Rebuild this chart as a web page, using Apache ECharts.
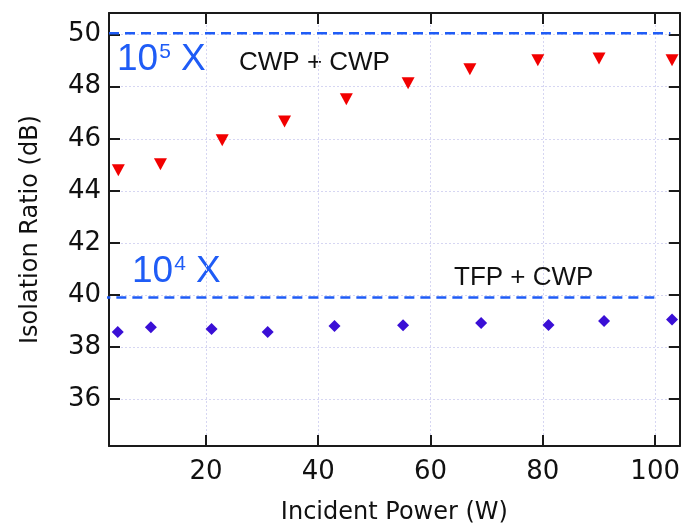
<!DOCTYPE html>
<html>
<head>
<meta charset="utf-8">
<script src="https://cdn.jsdelivr.net/npm/echarts@6/dist/echarts.min.js"></script>
<style>
  html, body { margin: 0; padding: 0; background: #fff; }
  #chart { width: 683px; height: 530px; }
</style>
</head>
<body>
<div id="chart"></div>
<script>
// CWP + CWP (red triangles)
const cwpPower = [4.4, 11.9, 22.9, 34.0, 45.0, 56.0, 67.0, 79.1, 90.0, 103.0];
const cwpRatio = [44.79, 45.02, 45.94, 46.66, 47.52, 48.13, 48.67, 49.02, 49.08, 49.02];
// TFP + CWP (blue diamonds)
const tfpPower = [4.3, 10.2, 21.0, 31.0, 42.9, 55.1, 69.0, 81.0, 90.9, 103.0];
const tfpRatio = [38.58, 38.76, 38.69, 38.58, 38.81, 38.84, 38.92, 38.85, 39.0, 39.06];
// dashed reference levels 10^5 and 10^4
const level5X = [2.74, 102.7];
const level5Y = 50.05;
const level4X = [1.2, 100.5];
const level4Y = 39.9;

const axisFont = 'DejaVu Sans';
const frame = { lineStyle: { color: '#1a1a1a', width: 2 } };
const inTick = { show: true, inside: true, length: 11, lineStyle: { color: '#1a1a1a', width: 2 } };
const grid = { show: true, lineStyle: { color: '#d6d6f2', width: 1, type: [2, 2] } };
const blueRich = {
  a: { fontFamily: 'Liberation Sans', fontSize: 37, lineHeight: 40, fill: '#1f5cf6' },
  b: { fontFamily: 'Liberation Sans', fontSize: 21, padding: [0, 0, 15, 1], fill: '#1f5cf6' }
};

const chart = echarts.init(document.getElementById('chart'));
chart.setOption({
  animation: false,
  grid: { left: 109, right: 1.5, top: 13, bottom: 79 },
  xAxis: [{
    type: 'value', min: 2.74, max: 104.38, splitNumber: 5,
    name: 'Incident Power (W)', nameLocation: 'middle', nameGap: 55,
    nameTextStyle: { fontFamily: axisFont, fontSize: 24, color: '#111' },
    axisLine: frame, axisTick: inTick, splitLine: grid,
    axisLabel: { fontFamily: axisFont, fontSize: 26, color: '#111', margin: 13, showMinLabel: false, showMaxLabel: false }
  }, {
    type: 'value', position: 'top', min: 2.74, max: 104.38, splitNumber: 5,
    axisLine: frame, axisTick: inTick, splitLine: { show: false }, axisLabel: { show: false }
  }],
  yAxis: [{
    type: 'value', min: 34.2, max: 50.83, splitNumber: 8,
    name: 'Isolation Ratio (dB)', nameLocation: 'middle', nameGap: 66,
    nameTextStyle: { fontFamily: axisFont, fontSize: 24, color: '#111' },
    axisLine: frame, axisTick: inTick, splitLine: grid,
    axisLabel: { fontFamily: axisFont, fontSize: 26, color: '#111', margin: 8, showMinLabel: false, showMaxLabel: false }
  }, {
    type: 'value', position: 'right', min: 34.2, max: 50.83, splitNumber: 8,
    axisLine: frame, axisTick: inTick, splitLine: { show: false }, axisLabel: { show: false }
  }],
  series: [
    {
      type: 'line', silent: true, clip: false, symbol: 'none', z: 1,
      lineStyle: { color: '#1f5cf6', width: 2.5, type: [10, 6] },
      data: level5X.map(x => [x, level5Y])
    },
    {
      type: 'line', silent: true, clip: false, symbol: 'none', z: 1,
      lineStyle: { color: '#1f5cf6', width: 2.5, type: [10, 6] },
      data: level4X.map(x => [x, level4Y])
    },
    {
      name: 'CWP + CWP', type: 'scatter', symbol: 'triangle', symbolRotate: 180,
      symbolSize: [13, 12], itemStyle: { color: '#f20000', opacity: 1 },
      data: cwpPower.map((p, i) => [p, cwpRatio[i]])
    },
    {
      name: 'TFP + CWP', type: 'scatter', symbol: 'diamond',
      symbolSize: [12, 12], itemStyle: { color: '#3a0fd6', opacity: 1 },
      data: tfpPower.map((p, i) => [p, tfpRatio[i]])
    }
  ],
  graphic: [
    {
      type: 'text', x: 117, y: 60,
      style: { text: '{a|10}{b|5}{a| X}', verticalAlign: 'middle', rich: blueRich }
    },
    {
      type: 'text', x: 132, y: 272,
      style: { text: '{a|10}{b|4}{a| X}', verticalAlign: 'middle', rich: blueRich }
    },
    {
      type: 'text', x: 239, y: 63,
      style: { text: 'CWP + CWP', verticalAlign: 'middle', font: '26px "Liberation Sans"', fill: '#111' }
    },
    {
      type: 'text', x: 454, y: 278,
      style: { text: 'TFP + CWP', verticalAlign: 'middle', font: '26px "Liberation Sans"', fill: '#111' }
    }
  ]
});
</script>
</body>
</html>
